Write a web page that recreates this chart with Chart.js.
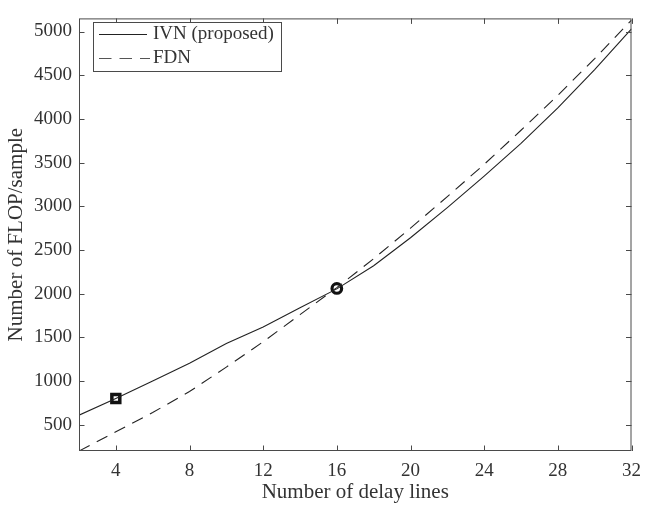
<!DOCTYPE html>
<html>
<head>
<meta charset="utf-8">
<script src="https://cdn.jsdelivr.net/npm/chart.js@4.4.1/dist/chart.umd.min.js"></script>
<style>
  html, body { margin: 0; padding: 0; background: #fff; }
  #wrap { width: 650px; height: 506px; }
</style>
</head>
<body>
<div id="wrap"><canvas id="flopChart" width="650" height="506"></canvas></div>
<script>
  // values
  var delayLines = [2, 4, 6, 8, 10, 12, 14, 16, 18, 20, 22, 24, 26, 28, 30, 32];
  var ivnFlops   = [610, 800, 1000, 1205, 1430, 1620, 1840, 2055, 2320, 2640, 2985, 3345, 3720, 4125, 4565, 5030];
  var fdnFlops   = [200, 420, 640, 880, 1160, 1450, 1760, 2070, 2400, 2750, 3110, 3480, 3870, 4270, 4690, 5130];
  var squareX = [4],  squareY = [800];
  var circleX = [16], circleY = [2060];
  var xTickValues = [4, 8, 12, 16, 20, 24, 28, 32];
  var yTickValues = [500, 1000, 1500, 2000, 2500, 3000, 3500, 4000, 4500, 5000];
  var legendLabels = ['IVN (proposed)', 'FDN'];

  var axisColor = '#4a4a4a';
  var textColor = '#333333';
  var serif = '"Liberation Serif", "Times New Roman", serif';

  function pts(xs, ys){
    var out = [];
    for (var i = 0; i < xs.length; i++) out.push({x: xs[i], y: ys[i]});
    return out;
  }

  // box round the axes with inward ticks, like matlab
  var framePlugin = {
    id: 'frame',
    afterDraw: function(chart){
      var ctx = chart.ctx, a = chart.chartArea;
      var xs = chart.scales.x, ys = chart.scales.y;
      var tl = 5.5;
      ctx.save();
      ctx.strokeStyle = axisColor;
      ctx.lineWidth = 1;
      ctx.strokeRect(a.left + 0.5, a.top + 0.5, a.right - a.left - 1, a.bottom - a.top - 1);
      ctx.beginPath();
      xTickValues.forEach(function(v){
        var px = Math.round(xs.getPixelForValue(v)) + 0.5;
        ctx.moveTo(px, a.bottom); ctx.lineTo(px, a.bottom - tl);
        ctx.moveTo(px, a.top); ctx.lineTo(px, a.top + tl);
      });
      yTickValues.forEach(function(v){
        var py = Math.round(ys.getPixelForValue(v)) + 0.5;
        ctx.moveTo(a.left, py); ctx.lineTo(a.left + tl, py);
        ctx.moveTo(a.right, py); ctx.lineTo(a.right - tl, py);
      });
      ctx.stroke();

      // legend box
      var bx = 93.5, by = 22.5, bw = 188, bh = 49;
      ctx.fillStyle = '#fff';
      ctx.fillRect(bx, by, bw, bh);
      ctx.strokeStyle = axisColor;
      ctx.strokeRect(bx, by, bw, bh);
      ctx.strokeStyle = '#222';
      ctx.beginPath();
      ctx.moveTo(99, 34.5); ctx.lineTo(147, 34.5);
      ctx.stroke();
      ctx.strokeStyle = '#555';
      ctx.setLineDash([12.5, 8]);
      ctx.beginPath();
      ctx.moveTo(99, 58.5); ctx.lineTo(150, 58.5);
      ctx.stroke();
      ctx.setLineDash([]);
      ctx.fillStyle = textColor;
      ctx.font = '19px ' + serif;
      ctx.textBaseline = 'middle';
      ctx.textAlign = 'left';
      ctx.fillText(legendLabels[0], 153, 34.5);
      ctx.fillText(legendLabels[1], 153, 58.5);
      ctx.restore();
    }
  };

  var ctx_chart = document.getElementById('flopChart');
  var chart = new Chart(ctx_chart, {
    type: 'line',
    data: {
      datasets: [{
        label: legendLabels[0],
        data: pts(delayLines, ivnFlops),
        borderColor: '#222',
        borderWidth: 1.1,
        pointRadius: 0,
        fill: false,
        tension: 0
      },{
        label: legendLabels[1],
        data: pts(delayLines, fdnFlops),
        borderColor: '#222',
        borderWidth: 1.1,
        borderDash: [12, 8],
        pointRadius: 0,
        fill: false,
        tension: 0
      },{
        label: 'square',
        data: pts(squareX, squareY),
        showLine: false,
        pointStyle: 'rect',
        pointRadius: 5.6,
        borderWidth: 3.5,
        borderColor: '#111',
        backgroundColor: '#fff'
      },{
        label: 'circle',
        data: pts(circleX, circleY),
        showLine: false,
        pointStyle: 'circle',
        pointRadius: 4.8,
        borderWidth: 3.2,
        borderColor: '#111',
        backgroundColor: '#fff'
      }]
    },
    options: {
      responsive: false,
      animation: false,
      layout: { padding: { top: 8, right: 10, left: 0, bottom: 0 } },
      plugins: {
        legend: { display: false },
        tooltip: { enabled: false }
      },
      scales: {
        x: {
          type: 'linear',
          min: 2,
          max: 32,
          grid: { display: false, drawTicks: false },
          border: { display: false },
          afterFit: function(s){ s.height = 55; },
          afterBuildTicks: function(s){ s.ticks = xTickValues.map(function(v){ return {value: v}; }); },
          ticks: {
            color: textColor, font: { family: serif, size: 19 }, padding: 9, maxRotation: 0,
            callback: function(v){ return String(v); }
          },
          title: {
            display: true,
            text: 'Number of delay lines',
            color: textColor,
            font: { family: serif, size: 21 },
            padding: { top: 0, bottom: 1 }
          }
        },
        y: {
          min: 200,
          max: 5150,
          grid: { display: false, drawTicks: false },
          border: { display: false },
          afterFit: function(s){ s.width = 79; },
          afterBuildTicks: function(s){ s.ticks = yTickValues.map(function(v){ return {value: v}; }); },
          ticks: {
            color: textColor, font: { family: serif, size: 19 }, padding: 7,
            callback: function(v){ return String(v); }
          },
          title: {
            display: true,
            text: 'Number of FLOP/sample',
            color: textColor,
            font: { family: serif, size: 21 },
            padding: { top: 4, bottom: 0 }
          }
        }
      }
    },
    plugins: [framePlugin]
  });
</script>
</body>
</html>
